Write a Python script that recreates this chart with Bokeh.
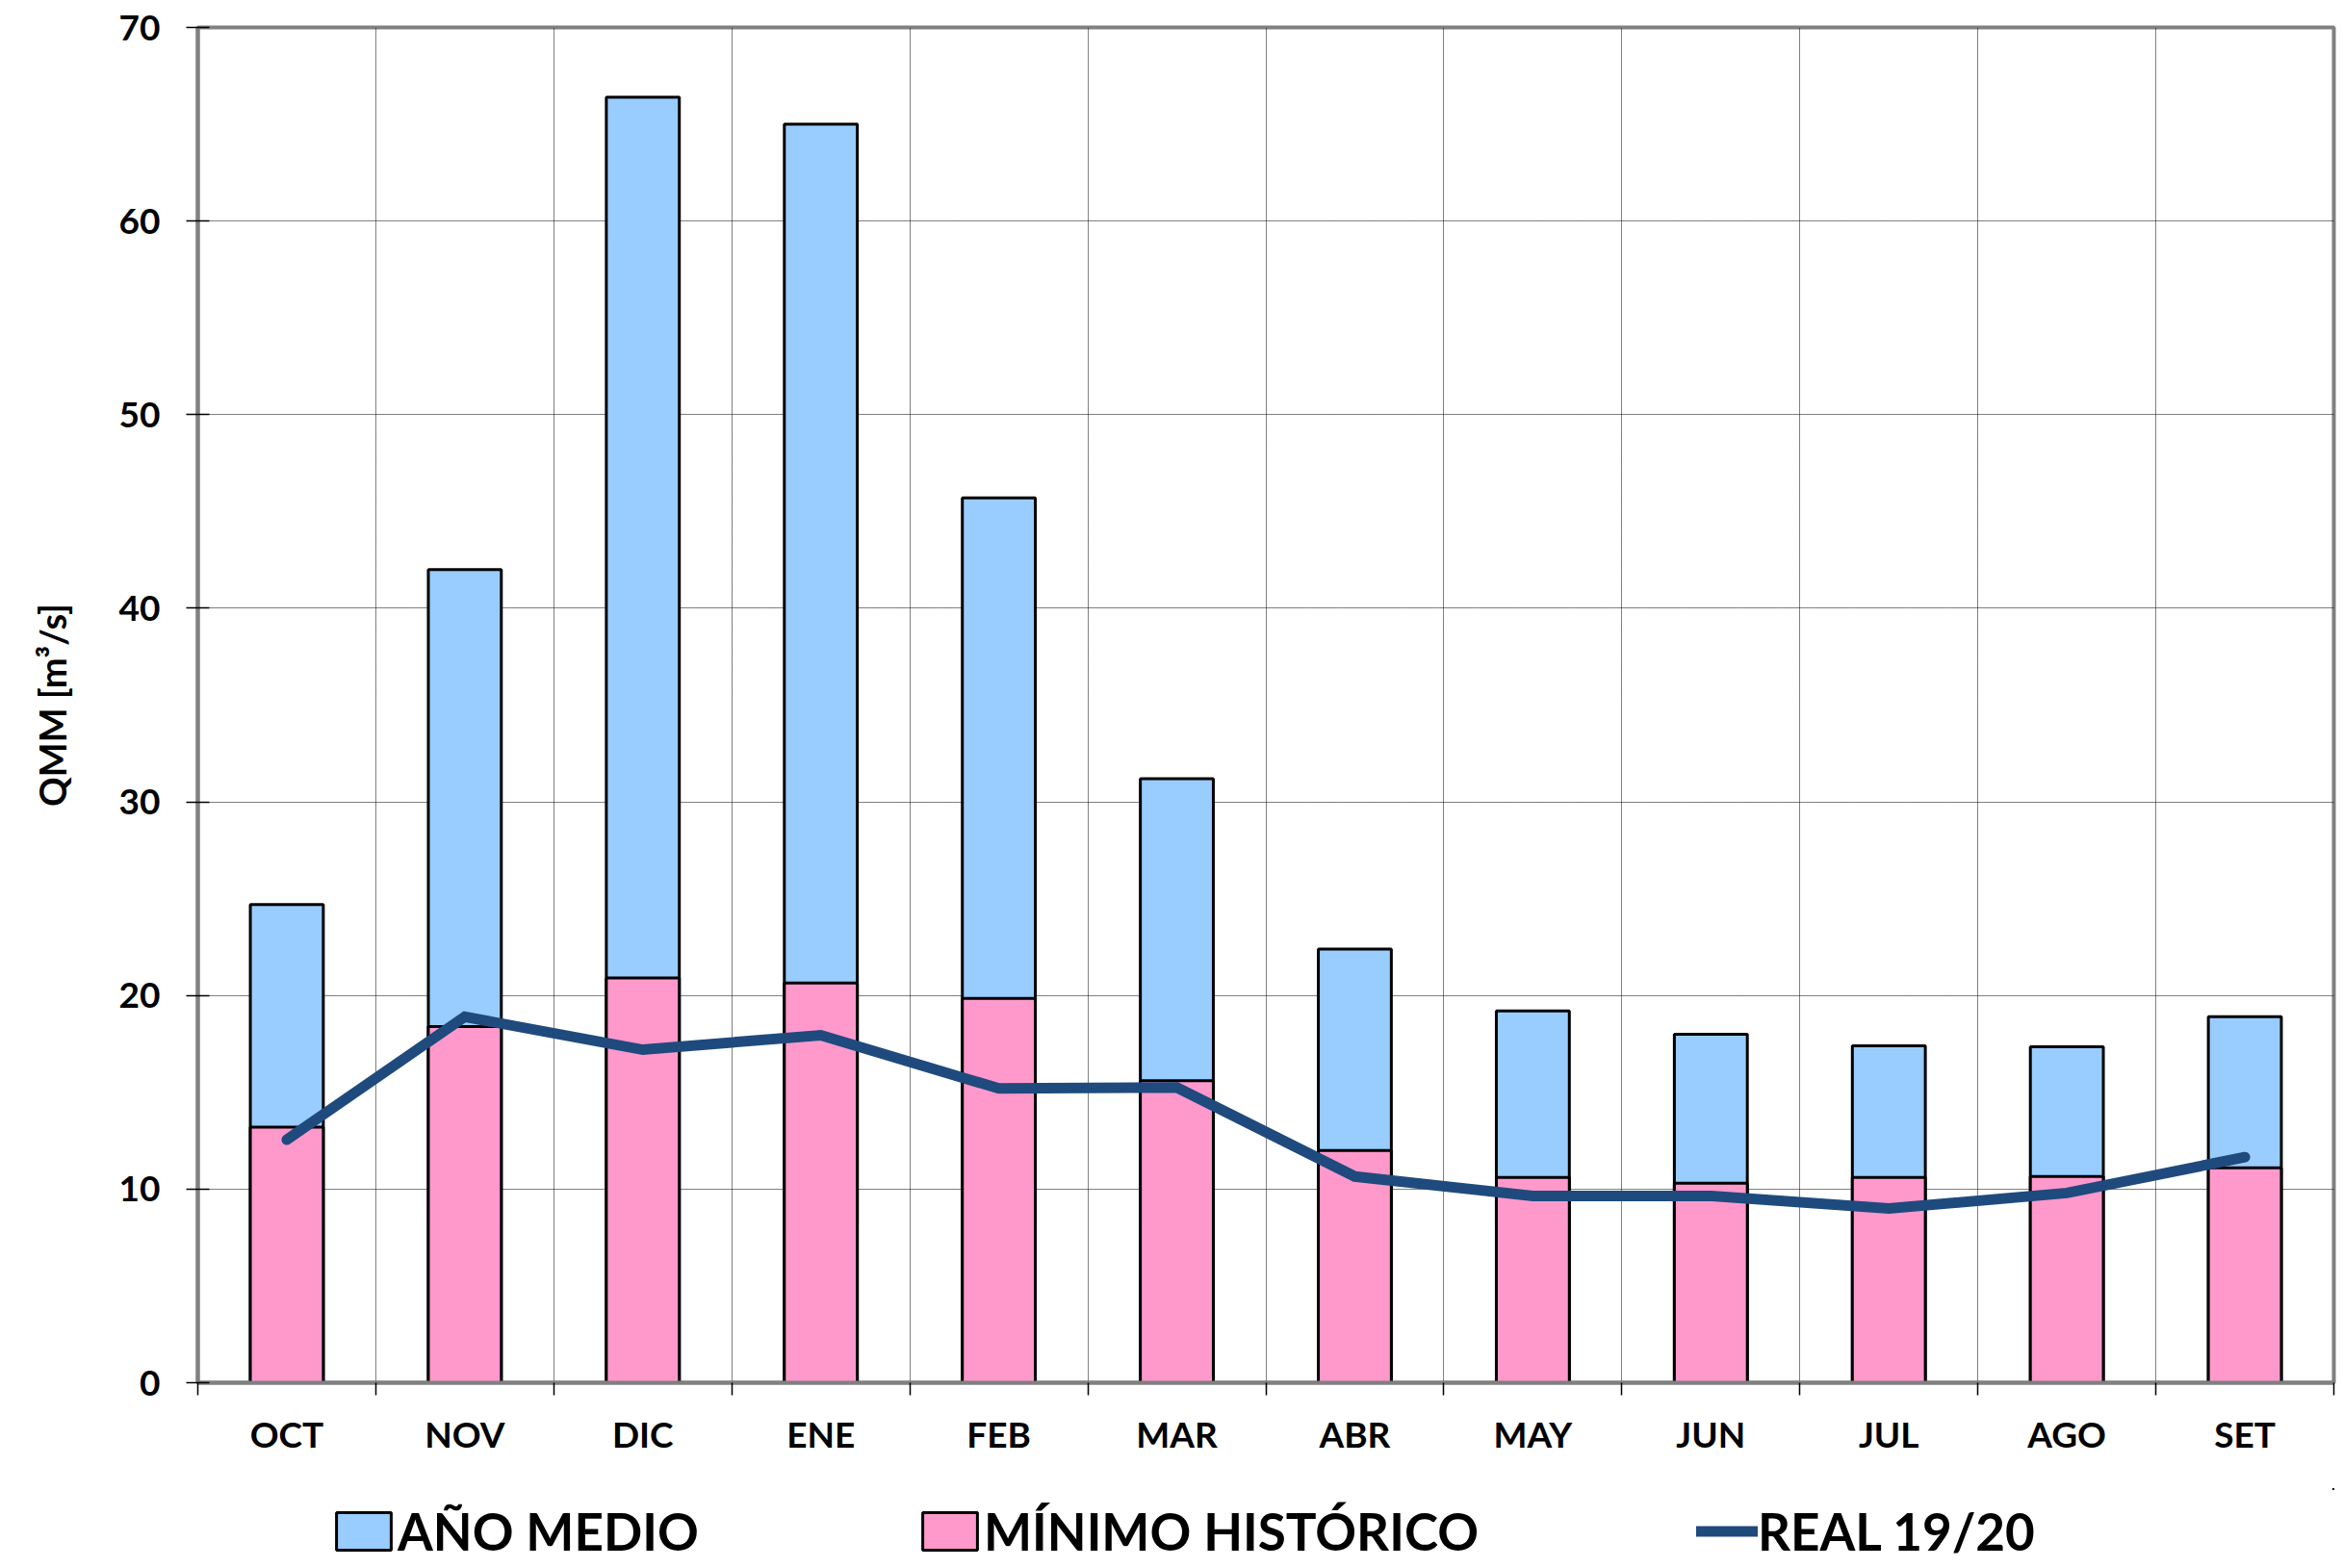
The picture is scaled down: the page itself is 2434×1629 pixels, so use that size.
from bokeh.plotting import figure
from bokeh.layouts import column
from bokeh.models import Range1d, FixedTicker, Legend, LegendItem, ColumnDataSource
from bokeh.embed import file_html
from bokeh.resources import INLINE

# ---- data ----
months = ["OCT", "NOV", "DIC", "ENE", "FEB", "MAR", "ABR", "MAY", "JUN", "JUL", "AGO", "SET"]
anio_medio = [24.7, 42.0, 66.4, 65.0, 45.7, 31.2, 22.4, 19.2, 18.0, 17.4, 17.35, 18.9]
minimo_historico = [13.2, 18.4, 20.9, 20.65, 19.85, 15.6, 12.0, 10.6, 10.3, 10.6, 10.65, 11.1]
real_1920 = [12.55, 18.9, 17.2, 17.95, 15.2, 15.25, 10.65, 9.65, 9.65, 9.0, 9.8, 11.65]
y_ticks = [0, 10, 20, 30, 40, 50, 60, 70]
series_labels = ["AÑO MEDIO", "MÍNIMO HISTÓRICO", "REAL 19/20"]
y_label = "QMM [m³/s]"

idx = list(range(len(months)))
src = ColumnDataSource(dict(x=idx, medio=anio_medio, minimo=minimo_historico, real=real_1920))

FONT = "Lato"
BLUE = "#99CCFF"
PINK = "#FF99CC"
LINE = "#1F4A7D"

p = figure(width=2427, height=1546,
           x_range=Range1d(-0.5, len(months) - 0.5),
           y_range=Range1d(y_ticks[0], y_ticks[-1]),
           output_backend="svg", toolbar_location=None,
           min_border_left=205, min_border_right=3,
           min_border_top=28, min_border_bottom=110)
p.background_fill_color = "white"
p.border_fill_color = "white"
p.outline_line_color = "#808080"
p.outline_line_width = 4

p.vbar(x="x", top="medio", bottom=0, width=0.41, source=src,
       fill_color=BLUE, line_color="black", line_width=3)
p.vbar(x="x", top="minimo", bottom=0, width=0.41, source=src,
       fill_color=PINK, line_color="black", line_width=3)
p.line(x="x", y="real", source=src, line_color=LINE, line_width=11,
       line_cap="round", line_join="miter")

# x axis
xa = p.xaxis[0]
xa.ticker = FixedTicker(ticks=idx, minor_ticks=[i - 0.5 for i in range(len(months) + 1)])
xa.major_label_overrides = {i: m for i, m in enumerate(months)}
xa.major_tick_out = 0
xa.major_tick_in = 0
xa.major_tick_line_color = None
xa.minor_tick_out = 13
xa.minor_tick_in = 0
xa.minor_tick_line_color = "black"
xa.minor_tick_line_width = 1.5
xa.major_label_standoff = 17
xa.major_label_text_font = FONT
xa.major_label_text_font_style = "bold"
xa.major_label_text_font_size = "37px"
xa.major_label_text_color = "black"
xa.axis_line_color = "#808080"
xa.axis_line_width = 4

# y axis
ya = p.yaxis[0]
ya.ticker = FixedTicker(ticks=y_ticks, minor_ticks=[])
ya.major_tick_in = 12
ya.major_tick_out = 12
ya.major_tick_line_color = "black"
ya.major_tick_line_width = 1.5
ya.major_label_standoff = 27
ya.major_label_text_font = FONT
ya.major_label_text_font_style = "bold"
ya.major_label_text_font_size = "37px"
ya.major_label_text_color = "black"
ya.axis_line_color = "#808080"
ya.axis_line_width = 4
ya.axis_label = y_label
ya.axis_label_text_font = FONT
ya.axis_label_text_font_style = "bold"
ya.axis_label_text_font_size = "38px"
ya.axis_label_text_color = "black"
ya.axis_label_standoff = 44

# grids
p.ygrid.grid_line_color = "black"
p.ygrid.grid_line_dash = "1 1"
p.ygrid.grid_line_width = 1
p.xgrid.grid_line_color = None
p.xgrid.minor_grid_line_color = "black"
p.xgrid.minor_grid_line_dash = "1 1"
p.xgrid.minor_grid_line_width = 1

# ---- legend strip (separate figure below; its series lie outside its view) ----
lg = figure(width=2427, height=80, x_range=Range1d(-200, -100), y_range=Range1d(-200, -100),
            output_backend="svg", toolbar_location=None,
            x_axis_location=None, y_axis_location=None,
            min_border_left=0, min_border_right=0, min_border_top=0, min_border_bottom=0)
lg.outline_line_color = None
lg.xgrid.visible = False
lg.ygrid.visible = False
lg.border_fill_color = "white"
lg.background_fill_color = "white"
d1 = lg.vbar(x="x", top="medio", bottom=0, width=0.41, source=src,
             fill_color=BLUE, line_color="black", line_width=3)
d2 = lg.vbar(x="x", top="minimo", bottom=0, width=0.41, source=src,
             fill_color=PINK, line_color="black", line_width=3)
d3 = lg.line(x="x", y="real", source=src, line_color=LINE, line_width=11, line_cap="round")

def add_item(label, rend, x, gw, gh):
    leg = Legend(items=[LegendItem(label=label, renderers=[rend])],
                 location=(x, 4), orientation="horizontal",
                 glyph_width=gw, glyph_height=gh, label_standoff=0,
                 label_text_font=FONT, label_text_font_style="bold",
                 label_text_font_size="53px", label_text_color="black",
                 padding=0, margin=0, spacing=0,
                 border_line_color=None, background_fill_alpha=0)
    lg.add_layout(leg)

add_item(series_labels[0], d1, 137, 71, 49)
add_item(series_labels[1], d2, 746, 71, 49)
add_item(series_labels[2], d3, 1557, 64, 49)

layout = column(p, lg, spacing=0)
open("out.html", "w").write(file_html(layout, INLINE))
